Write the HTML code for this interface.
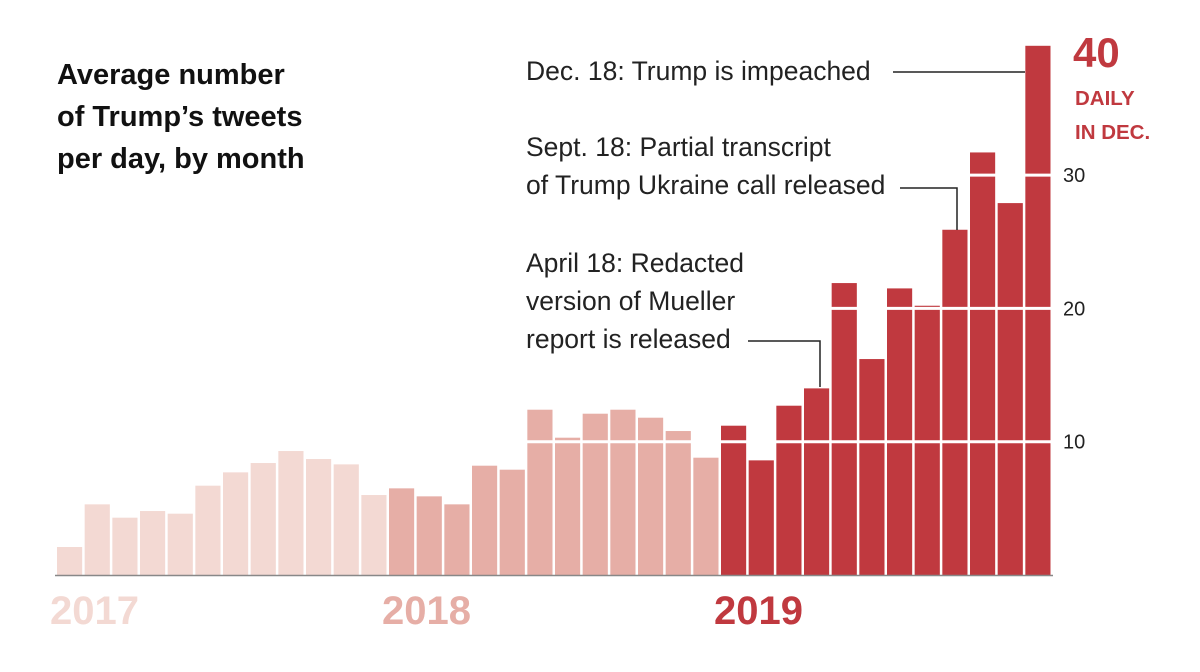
<!DOCTYPE html>
<html><head><meta charset="utf-8"><style>
body{margin:0;background:#fff;width:1200px;height:672px;overflow:hidden}
svg{display:block;font-family:"Liberation Sans",sans-serif}
</style></head><body>
<svg id="chart" width="1200" height="672" viewBox="0 0 1200 672">
<g id="bars"></g>
<g id="grid"></g>
<g id="ticks"></g>
<line x1="55" x2="1053" y1="575.5" y2="575.5" stroke="#888" stroke-width="1.5"/>
<text font-weight="bold" font-size="29" fill="#111"><tspan x="57" y="84">Average number</tspan><tspan x="57" y="126">of Trump’s tweets</tspan><tspan x="57" y="168">per day, by month</tspan></text>
<g id="years"></g>
<g font-size="26.5" fill="#222">
<text x="526" y="80">Dec. 18: Trump is impeached</text>
<polyline points="893,72 1025,72" fill="none" stroke="#222" stroke-width="1.5"/>
<text><tspan x="526" y="156">Sept. 18: Partial transcript</tspan><tspan x="526" y="194">of Trump Ukraine call released</tspan></text>
<polyline points="900,188 957,188 957,230" fill="none" stroke="#222" stroke-width="1.5"/>
<text><tspan x="526" y="272">April 18: Redacted</tspan><tspan x="526" y="310">version of Mueller</tspan><tspan x="526" y="348">report is released</tspan></text>
<polyline points="748,341 820,341 820,387" fill="none" stroke="#222" stroke-width="1.5"/>
</g>
<text x="1073" y="67" font-size="42" font-weight="bold" fill="#c0393f">40</text>
<text font-size="20.5" font-weight="bold" fill="#c0393f"><tspan x="1075" y="105">DAILY</tspan><tspan x="1075" y="139">IN DEC.</tspan></text>
</svg>
<script>
const months = ["2017-01","2017-02","2017-03","2017-04","2017-05","2017-06","2017-07","2017-08","2017-09","2017-10","2017-11","2017-12","2018-01","2018-02","2018-03","2018-04","2018-05","2018-06","2018-07","2018-08","2018-09","2018-10","2018-11","2018-12","2019-01","2019-02","2019-03","2019-04","2019-05","2019-06","2019-07","2019-08","2019-09","2019-10","2019-11","2019-12"];
const values = [2.1,5.3,4.3,4.8,4.6,6.7,7.7,8.4,9.3,8.7,8.3,6.0,6.5,5.9,5.3,8.2,7.9,12.4,10.3,12.1,12.4,11.8,10.8,8.8,11.2,8.6,12.7,14.0,21.9,16.2,21.5,20.2,25.9,31.7,27.9,39.7];
const yTicks = [10,20,30];
const years = ["2017","2018","2019"];
const yearColors = {"2017":"#f3d9d3","2018":"#e6aea6","2019":"#c0393f"};
const NS="http://www.w3.org/2000/svg";
const x0=56, slot=(1052-56)/36, y0=575, k=13.33;
const xs=i=>x0+i*slot, ys=v=>y0-v*k;
const bars=document.getElementById('bars');
months.forEach((m,i)=>{
  const r=document.createElementNS(NS,'rect');
  
  
  r.setAttribute('x',xs(i)+1);r.setAttribute('width',slot-2.5);
  r.setAttribute('y',ys(values[i]));r.setAttribute('height',values[i]*k);
  r.setAttribute('fill',yearColors[m.slice(0,4)]);
  bars.appendChild(r);
});
const grid=document.getElementById('grid'),ticks=document.getElementById('ticks');
yTicks.forEach(t=>{
  const l=document.createElementNS(NS,'line');
  
  
  l.setAttribute('x1',x0);l.setAttribute('x2',1052);l.setAttribute('y1',ys(t));l.setAttribute('y2',ys(t));
  l.setAttribute('stroke','#fff');l.setAttribute('stroke-width','3');
  grid.appendChild(l);
  const tx=document.createElementNS(NS,'text');
  
  
  tx.setAttribute('x',1063);tx.setAttribute('y',ys(t)+7);tx.setAttribute('font-size','20');tx.setAttribute('fill','#222');
  tx.textContent=t;ticks.appendChild(tx);
});
const yg=document.getElementById('years');
years.forEach((y,j)=>{
  const tx=document.createElementNS(NS,'text');
  
  
  tx.setAttribute('x',xs(j*12)-6);tx.setAttribute('y',624);tx.setAttribute('font-size','40');tx.setAttribute('font-weight','bold');
  tx.setAttribute('fill',yearColors[y]);tx.textContent=y;yg.appendChild(tx);
});
</script>
</body></html>
